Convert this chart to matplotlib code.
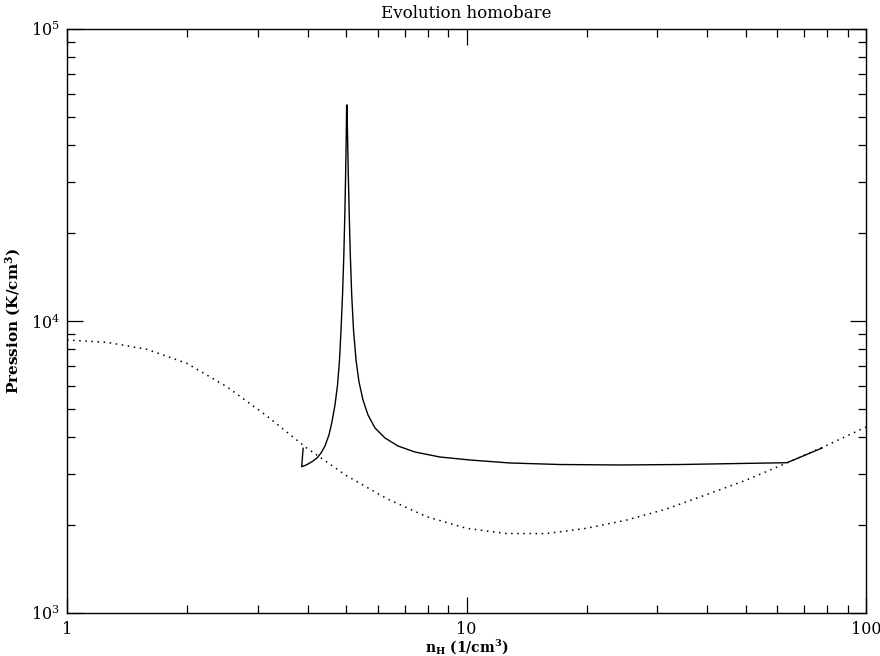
import matplotlib
matplotlib.use("Agg")
import matplotlib.pyplot as plt
from matplotlib.ticker import LogLocator, FixedLocator, FixedFormatter

plt.rcParams['font.family'] = ['DejaVu Serif']
plt.rcParams['mathtext.fontset'] = 'dejavuserif'

# equilibrium curve (dotted)
eq_n = [1.0, 1.259, 1.585, 1.995, 2.512, 3.162, 3.981, 5.012, 6.310, 7.943, 10.0,
        12.59, 15.85, 19.95, 25.12, 31.62, 39.81, 50.12, 63.10, 79.43, 100.0]
eq_p = [8610, 8453, 7998, 7161, 5957, 4732, 3673, 2951, 2466, 2138, 1950,
        1871, 1871, 1950, 2080, 2270, 2541, 2851, 3258, 3741, 4335]

# homobaric evolution (solid)
ev_n = [3.90, 3.868, 3.942, 4.035, 4.129, 4.225, 4.323, 4.424, 4.526, 4.605, 4.686,
        4.755, 4.810, 4.852, 4.894, 4.931, 4.959, 4.982, 4.999, 5.011,
        5.022, 5.040, 5.060, 5.087, 5.119, 5.160, 5.214, 5.290, 5.382, 5.507,
        5.668, 5.902, 6.252, 6.740, 7.432, 8.585, 10.20, 12.85, 17.14, 24.23,
        34.22, 48.37, 63.43, 77.62]
ev_p = [3665, 3170, 3200, 3251, 3316, 3395, 3531, 3731, 4071, 4510, 5157,
        6037, 7353, 9316, 12274, 16827, 23067, 31623, 41687, 54930,
        54930, 41687, 31623, 23067, 16827, 12274, 9316, 7353, 6181, 5365,
        4765, 4301, 3975, 3731, 3559, 3421, 3342, 3264, 3225, 3213,
        3225, 3251, 3271, 3673]

fig = plt.figure(figsize=(8.8, 6.56), dpi=100)
ax = fig.add_axes([67 / 880, 1 - 613 / 656, (866 - 67) / 880, (613 - 29) / 656])

ax.plot(eq_n, eq_p, color='black', linestyle=(0, (1, 3)), linewidth=1.1)
ax.plot(ev_n, ev_p, color='black', linewidth=1.0)

ax.set_xscale('log')
ax.set_yscale('log')
ax.set_xlim(1, 100)
ax.set_ylim(1e3, 1e5)

ax.xaxis.set_major_locator(FixedLocator([1, 10, 100]))
ax.xaxis.set_major_formatter(FixedFormatter(['1', '10', '100']))
ax.xaxis.set_minor_locator(LogLocator(base=10, subs=range(2, 10)))
ax.yaxis.set_minor_locator(LogLocator(base=10, subs=range(2, 10)))
ax.xaxis.set_minor_formatter(plt.NullFormatter())
ax.yaxis.set_minor_formatter(plt.NullFormatter())

ax.tick_params(which='both', direction='in', top=True, right=True, width=0.9,
               labelsize=11.5)
ax.tick_params(axis='x', pad=6)
ax.tick_params(axis='y', pad=5)
ax.tick_params(which='major', length=11.5)
ax.tick_params(which='minor', length=5.8)
for s in ax.spines.values():
    s.set_linewidth(1.0)

ax.set_title('Evolution homobare', fontsize=12, pad=8)
ax.set_xlabel(r'n$_\mathregular{H}$ (1/cm$^\mathregular{3}$)', fontsize=10,
              fontweight='bold', labelpad=0)
ax.set_ylabel(r'Pression (K/cm$^\mathregular{3}$)', fontsize=11,
              fontweight='bold', labelpad=6)

fig.savefig('out.png', dpi=100)
plt.close(fig)
